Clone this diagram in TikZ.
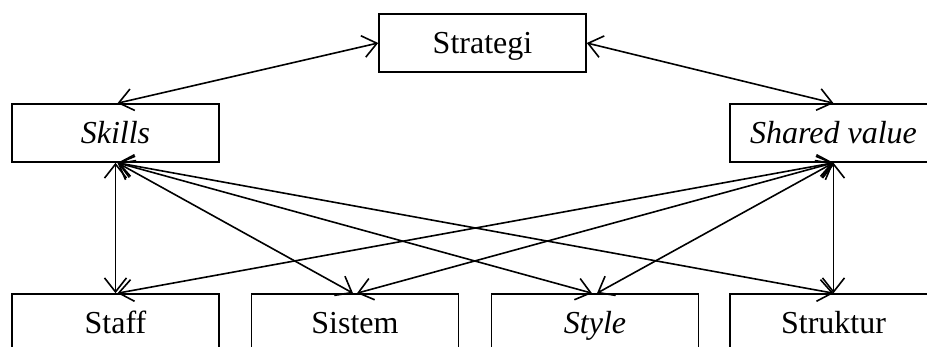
\documentclass[tikz,border=0pt]{standalone}
\usepackage{fontspec}
\setmainfont{Liberation Serif}
\usetikzlibrary{arrows.meta}
\begin{document}
\begin{tikzpicture}[x=1pt,y=-1pt,
  box/.style={draw, line width=1.6pt, minimum width=207pt, minimum height=58pt,
    inner sep=0pt, text height=21pt, text depth=0pt,
    font=\fontsize{32}{38}\selectfont},
  link/.style={line width=1.6pt,
    {Straight Barb[length=14pt,width=22pt]}-{Straight Barb[length=14pt,width=22pt]}}]
\useasboundingbox (0,0) rectangle (927,347);
\clip (0,0) rectangle (927,347);

% top level
\node[box] (strategi) at (482.5,43) {Strategi};
% middle level
\node[box] (skills) at (115.5,133) {\textit{Skills}};
\node[box] (shared) at (833.5,133) {\textit{Shared value}};
% bottom level
\node[box] (staff)    at (115.5,323) {Staff};
\node[box] (sistem)   at (355,323)   {Sistem};
\node[box] (style)    at (595,323)   {\textit{Style}};
\node[box] (struktur) at (833.5,323) {Struktur};

% links from the top
\draw[link] (strategi.west) -- ([xshift=2pt]skills.north);
\draw[link] (strategi.east) -- (shared.north);

% links from Skills
\draw[link] (skills.south) -- (staff.north);
\draw[link] ([xshift=2pt]skills.south) -- ([xshift=-2pt]sistem.north);
\draw[link] ([xshift=2pt]skills.south) -- ([xshift=-3pt]style.north);
\draw[link] ([xshift=2pt]skills.south) -- (struktur.north);

% links from Shared value
\draw[link] (shared.south) -- ([xshift=2pt]staff.north);
\draw[link] (shared.south) -- ([xshift=2pt]sistem.north);
\draw[link] (shared.south) -- ([xshift=2pt]style.north);
\draw[link] (shared.south) -- (struktur.north);
\end{tikzpicture}
\end{document}
